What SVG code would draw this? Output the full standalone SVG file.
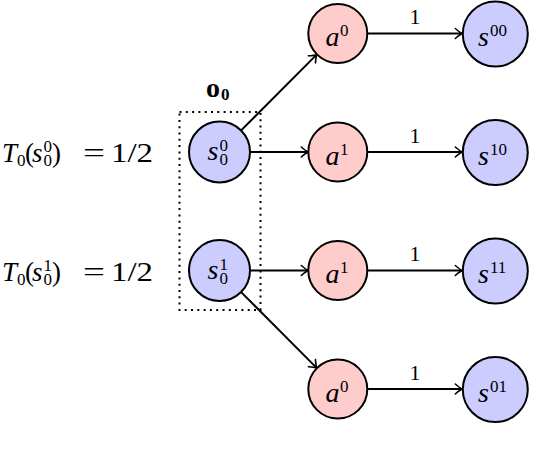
<svg xmlns="http://www.w3.org/2000/svg" width="552" height="458" viewBox="0 0 552 458">
<style>
.st{fill:#ccccff;stroke:#000;stroke-width:2}
.ac{fill:#ffcccc;stroke:#000;stroke-width:2}
.m{font-family:"Liberation Serif","DejaVu Serif",serif;font-size:28px;fill:#000}
.i{font-style:italic}
.sm{font-size:17px;font-style:normal}
.r{font-family:"Liberation Serif","DejaVu Serif",serif;font-size:27px;fill:#000}
.lbl{font-family:"Liberation Serif","DejaVu Serif",serif;font-size:22px;fill:#000;text-anchor:middle}
.e{fill:none;stroke:#000;stroke-width:2;marker-end:url(#arr)}
</style>
<defs>
<marker id="arr" markerUnits="userSpaceOnUse" markerWidth="12" markerHeight="12" viewBox="-8 -6 10 12" refX="0" refY="0" orient="auto" overflow="visible">
<path d="M-7,-5 Q-2.5,-1 0,0 Q-2.5,1 -7,5" fill="none" stroke="#000" stroke-width="1.6" stroke-linecap="round"/>
</marker>
</defs>
<rect width="552" height="458" fill="#fff"/>

<g id="labels">
<text class="r"><tspan class="i" x="2" y="162">T</tspan><tspan class="sm" x="17" y="166">0</tspan><tspan x="25" y="162">(</tspan><tspan class="i" x="32" y="162">s</tspan><tspan class="sm" x="43.5" y="152">0</tspan><tspan class="sm" x="43.5" y="166">0</tspan><tspan x="52" y="162">)</tspan></text>
<text class="r" x="83" y="162" textLength="22" lengthAdjust="spacingAndGlyphs">=</text>
<text class="r" x="111" y="162" textLength="42" lengthAdjust="spacingAndGlyphs">1/2</text>

<text class="r"><tspan class="i" x="2" y="281">T</tspan><tspan class="sm" x="17" y="285">0</tspan><tspan x="25" y="281">(</tspan><tspan class="i" x="32" y="281">s</tspan><tspan class="sm" x="43.5" y="271">1</tspan><tspan class="sm" x="43.5" y="285">0</tspan><tspan x="52" y="281">)</tspan></text>
<text class="r" x="83" y="281" textLength="22" lengthAdjust="spacingAndGlyphs">=</text>
<text class="r" x="111" y="281" textLength="42" lengthAdjust="spacingAndGlyphs">1/2</text>

<text font-family="Liberation Serif, DejaVu Serif, serif" font-weight="bold" font-size="28"><tspan x="206" y="97">o</tspan><tspan x="221" y="100" font-size="17">0</tspan></text>
</g>

<g id="option-box">
<rect x="179.5" y="112" width="81" height="198" fill="none" stroke="#000" stroke-width="2" stroke-dasharray="2 4.3"/>
</g>

<g id="connectors">
<line class="e" x1="241.1" y1="130.4" x2="316.9" y2="54.4"/>
<line class="e" x1="250" y1="152" x2="308.3" y2="152"/>
<line class="e" x1="250" y1="270.5" x2="308.3" y2="270.5"/>
<line class="e" x1="241.1" y1="292.1" x2="316.9" y2="368.1"/>
<line class="e" x1="367.3" y1="33.5" x2="462.3" y2="33.5"/>
<line class="e" x1="367.3" y1="152" x2="462.3" y2="152"/>
<line class="e" x1="367.3" y1="270.5" x2="462.3" y2="270.5"/>
<line class="e" x1="367.3" y1="389" x2="462.3" y2="389"/>
<text class="lbl" x="415" y="24">1</text>
<text class="lbl" x="415" y="142.5">1</text>
<text class="lbl" x="415" y="261">1</text>
<text class="lbl" x="415" y="379.5">1</text>
</g>

<g id="s0_0">
<circle class="st" cx="219.5" cy="152" r="30.5"/>
<text class="m"><tspan class="i" x="207.5" y="160">s</tspan><tspan class="sm" x="219.5" y="151">0</tspan><tspan class="sm" x="219.5" y="165">0</tspan></text>
</g>
<g id="s0_1">
<circle class="st" cx="219.5" cy="270.5" r="30.5"/>
<text class="m"><tspan class="i" x="207.5" y="278.5">s</tspan><tspan class="sm" x="219.5" y="269.5">1</tspan><tspan class="sm" x="219.5" y="283.5">0</tspan></text>
</g>

<g id="a0_top">
<circle class="ac" cx="337.8" cy="33.5" r="29.5"/>
<text class="m"><tspan class="i" x="325.5" y="46">a</tspan><tspan class="sm" x="340" y="36">0</tspan></text>
</g>
<g id="a1_row2">
<circle class="ac" cx="337.8" cy="152" r="29.5"/>
<text class="m"><tspan class="i" x="325.5" y="164.5">a</tspan><tspan class="sm" x="340" y="154.5">1</tspan></text>
</g>
<g id="a1_row3">
<circle class="ac" cx="337.8" cy="270.5" r="29.5"/>
<text class="m"><tspan class="i" x="325.5" y="283">a</tspan><tspan class="sm" x="340" y="273">1</tspan></text>
</g>
<g id="a0_bottom">
<circle class="ac" cx="337.8" cy="389" r="29.5"/>
<text class="m"><tspan class="i" x="325.5" y="401.5">a</tspan><tspan class="sm" x="340" y="391.5">0</tspan></text>
</g>

<g id="s00">
<circle class="st" cx="495.3" cy="34" r="32.5"/>
<text class="m"><tspan class="i" x="478" y="46">s</tspan><tspan class="sm" x="490" y="36">00</tspan></text>
</g>
<g id="s10">
<circle class="st" cx="495.3" cy="152.5" r="32.5"/>
<text class="m"><tspan class="i" x="478" y="164.5">s</tspan><tspan class="sm" x="490" y="154.5">10</tspan></text>
</g>
<g id="s11">
<circle class="st" cx="495.3" cy="271" r="32.5"/>
<text class="m"><tspan class="i" x="478" y="283">s</tspan><tspan class="sm" x="490" y="273">11</tspan></text>
</g>
<g id="s01">
<circle class="st" cx="495.3" cy="389.5" r="32.5"/>
<text class="m"><tspan class="i" x="478" y="401.5">s</tspan><tspan class="sm" x="490" y="391.5">01</tspan></text>
</g>
</svg>
